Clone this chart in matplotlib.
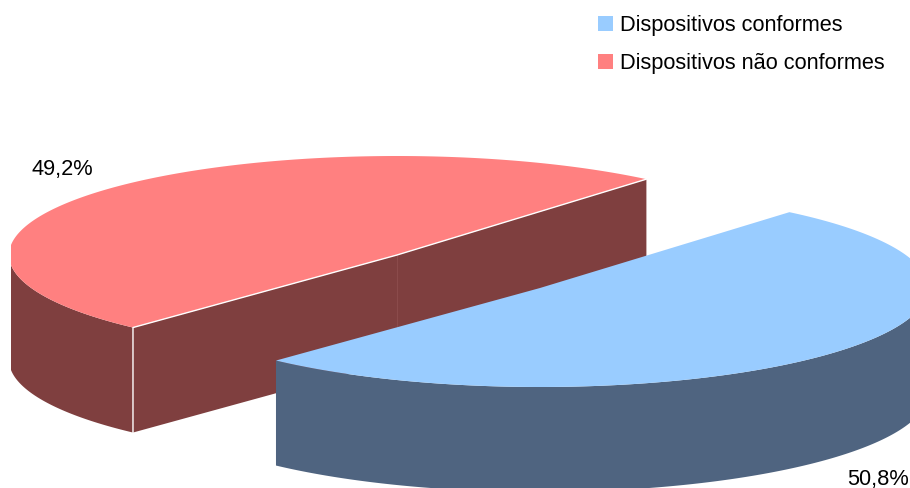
import numpy as np
from matplotlib import pyplot as plt
from matplotlib.patches import Polygon, Patch, Rectangle

plt.rcParams['font.family'] = ['Liberation Sans', 'DejaVu Sans']

labels = ["Dispositivos conformes", "Dispositivos não conformes"]
values = [50.8, 49.2]
value_labels = ["50,8%", "49,2%"]
top_colors = ["#99CCFF", "#FF8080"]
side_colors = ["#4F6480", "#7F3F3F"]

# pie geometry, in pixels of the picture
start_angle = 50
rx, ry = 388, 99
depth = 105
centers = [(540, 288), (397, 255)]
label_pos = [(878, 479), (62, 170)]


def arc(center, a, b):
    t = np.radians(np.linspace(a, b, 200))
    return np.column_stack([center[0] + rx * np.cos(t), center[1] - ry * np.sin(t)])


def drop(points):
    return points + [0, depth]


fig = plt.figure(figsize=(9.1, 4.88), dpi=100)
ax = fig.add_axes([0, 0, 1, 1])
ax.set_xlim(0, 910)
ax.set_ylim(488, 0)
ax.axis("off")

# angles of each slice, going counter clockwise from the start angle
red_a = start_angle
red_b = red_a + values[1] / sum(values) * 360
blue_a = red_b
blue_b = blue_a + values[0] / sum(values) * 360

# red slice first, the blue one sits in front of it
c = centers[1]
edge = Rectangle((11, 0), 899, 488, transform=ax.transData)
rim = arc(c, 180, red_b)
wall = ax.add_patch(Polygon(np.vstack([rim, drop(rim)[::-1]]), fc=side_colors[1], ec="none", zorder=1))
wall.set_clip_path(edge)
p1 = arc(c, red_a, red_a)
p2 = arc(c, red_b, red_b)
for p in (p1, p2):
    ax.add_patch(Polygon(np.vstack([p[:1], [c], drop(np.array([c])), drop(p[:1])]),
                         fc=side_colors[1], ec="none", zorder=1))
ax.plot([c[0], c[0]], [c[1], c[1] + depth], color="#8C4C4C", lw=0.7, zorder=1.1)
top = ax.add_patch(Polygon(np.vstack([[c], arc(c, red_a, red_b)]), fc=top_colors[1], ec="none", zorder=1.2))
top.set_clip_path(edge)
ax.plot([p1[0, 0], c[0], p2[0, 0], p2[0, 0]],
        [p1[0, 1], c[1], p2[0, 1], p2[0, 1] + depth], color="white", lw=1, zorder=1.3)

# blue slice
c = centers[0]
rim = arc(c, blue_a, 360)
ax.add_patch(Polygon(np.vstack([rim, drop(rim)[::-1]]), fc=side_colors[0], ec="none", zorder=2))
ax.add_patch(Polygon(np.vstack([[c], arc(c, blue_a, blue_b)]), fc=top_colors[0], ec="none", zorder=2.1))

for pos, text in zip(label_pos, value_labels):
    ax.text(pos[0], pos[1], text, fontsize=15.7, ha="center", va="center", color="black")

handles = [Patch(fc=col, ec="none", label=lab) for col, lab in zip(top_colors, labels)]
ax.legend(handles=handles, loc="upper left", bbox_to_anchor=(598 / 910, 1 - 15 / 488),
          frameon=False, fontsize=15.7, borderpad=0, borderaxespad=0, handlelength=0.7,
          handleheight=0.7, handletextpad=0.32, labelspacing=0.8)

fig.savefig("out.png", dpi=100)
